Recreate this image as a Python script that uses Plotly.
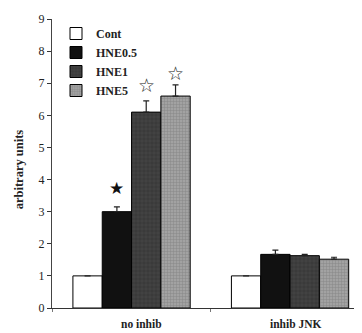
import plotly.graph_objects as go

categories = ["no inhib", "inhib JNK"]
series_names = ["Cont", "HNE0.5", "HNE1", "HNE5"]
cont = [1.0, 1.0]
hne05 = [3.0, 1.67]
hne1 = [6.1, 1.63]
hne5 = [6.6, 1.52]
err_cont = [0, 0]
err_hne05 = [0.15, 0.13]
err_hne1 = [0.35, 0.04]
err_hne5 = [0.35, 0.06]
y_ticks = [0, 1, 2, 3, 4, 5, 6, 7, 8, 9]

FONT = "Liberation Serif"
values = [cont, hne05, hne1, hne5]
errors = [err_cont, err_hne05, err_hne1, err_hne5]
styles = [
    dict(color="white", pattern=None),
    dict(color="#111111", pattern=None),
    dict(color="#3a3a3a", pattern=dict(shape="+", fgcolor="#555555", bgcolor="#3a3a3a", size=4, solidity=0.3)),
    dict(color="#929292", pattern=dict(shape="+", fgcolor="#6a6a6a", bgcolor="#a2a2a2", size=3, solidity=0.3)),
]

fig = go.Figure()
for name, v, e, st in zip(series_names, values, errors, styles):
    marker = dict(color=st["color"], line=dict(color="black", width=1))
    if st["pattern"]:
        marker["pattern"] = st["pattern"]
    fig.add_trace(go.Bar(
        x=categories, y=v, name="<b>" + name + "</b>", marker=marker,
        error_y=dict(type="data", array=e, arrayminus=[0] * len(e), symmetric=False,
                     color="#222222", thickness=1.2, width=3, visible=True),
    ))

bw = 0.185
# stars
fig.add_annotation(x=-0.5 * bw, y=3.74, xref="x", yref="y", text="★", showarrow=False,
                   font=dict(size=17, color="#111111", family="DejaVu Sans"))
fig.add_annotation(x=0.5 * bw, y=6.95, xref="x", yref="y", text="☆", showarrow=False,
                   font=dict(size=19, color="#222222", family="DejaVu Sans"))
fig.add_annotation(x=1.5 * bw, y=7.32, xref="x", yref="y", text="☆", showarrow=False,
                   font=dict(size=19, color="#222222", family="DejaVu Sans"))

# category labels (below the axis, so paper-referenced in y)
fig.add_annotation(x=0.06, y=-0.057, xref="x", yref="paper", text="<b>no inhib</b>", showarrow=False,
                   xanchor="center", yanchor="middle",
                   font=dict(size=11.5, color="#222222", family=FONT))
fig.add_annotation(x=1.037, y=-0.057, xref="x", yref="paper", text="<b>inhib JNK</b>", showarrow=False,
                   xanchor="center", yanchor="middle",
                   font=dict(size=11.5, color="#222222", family=FONT))
# y label
fig.add_annotation(x=-33 / 310, y=0.48, xref="paper", yref="paper", xanchor="center", yanchor="middle",
                   text="<b>arbitrary units</b>",
                   textangle=-90, showarrow=False, font=dict(size=12.5, color="#222222", family=FONT))

# page body has an 8px margin: figure is sized so the plot area lands where the reference has it
fig.update_layout(
    width=354, height=325,
    margin=dict(l=44, r=0, t=11, b=25),
    paper_bgcolor="white", plot_bgcolor="white",
    barmode="group", bargap=0.26, bargroupgap=0,
    font=dict(family=FONT, color="#222222"),
    showlegend=True,
    legend=dict(x=4 / 310, y=1.0, xanchor="left", yanchor="top",
                font=dict(size=12, family=FONT, color="#222222"),
                bgcolor="rgba(0,0,0,0)", tracegroupgap=0, itemwidth=30),
    xaxis=dict(range=[-0.502, 1.454], showline=True, linecolor="#333333", linewidth=1,
               ticks="outside", tickson="boundaries", ticklen=3, tickcolor="#777777",
               showticklabels=False, showgrid=False, zeroline=False),
    yaxis=dict(range=[0, 9], tickvals=y_ticks, showline=True, linecolor="#444444", linewidth=1,
               ticks="outside", ticklen=4, tickcolor="#333333", showgrid=False, zeroline=False,
               tickfont=dict(size=12, family=FONT, color="#222222"), tickprefix="<b>", ticksuffix="</b>"),
)

fig.write_html("out.html")
